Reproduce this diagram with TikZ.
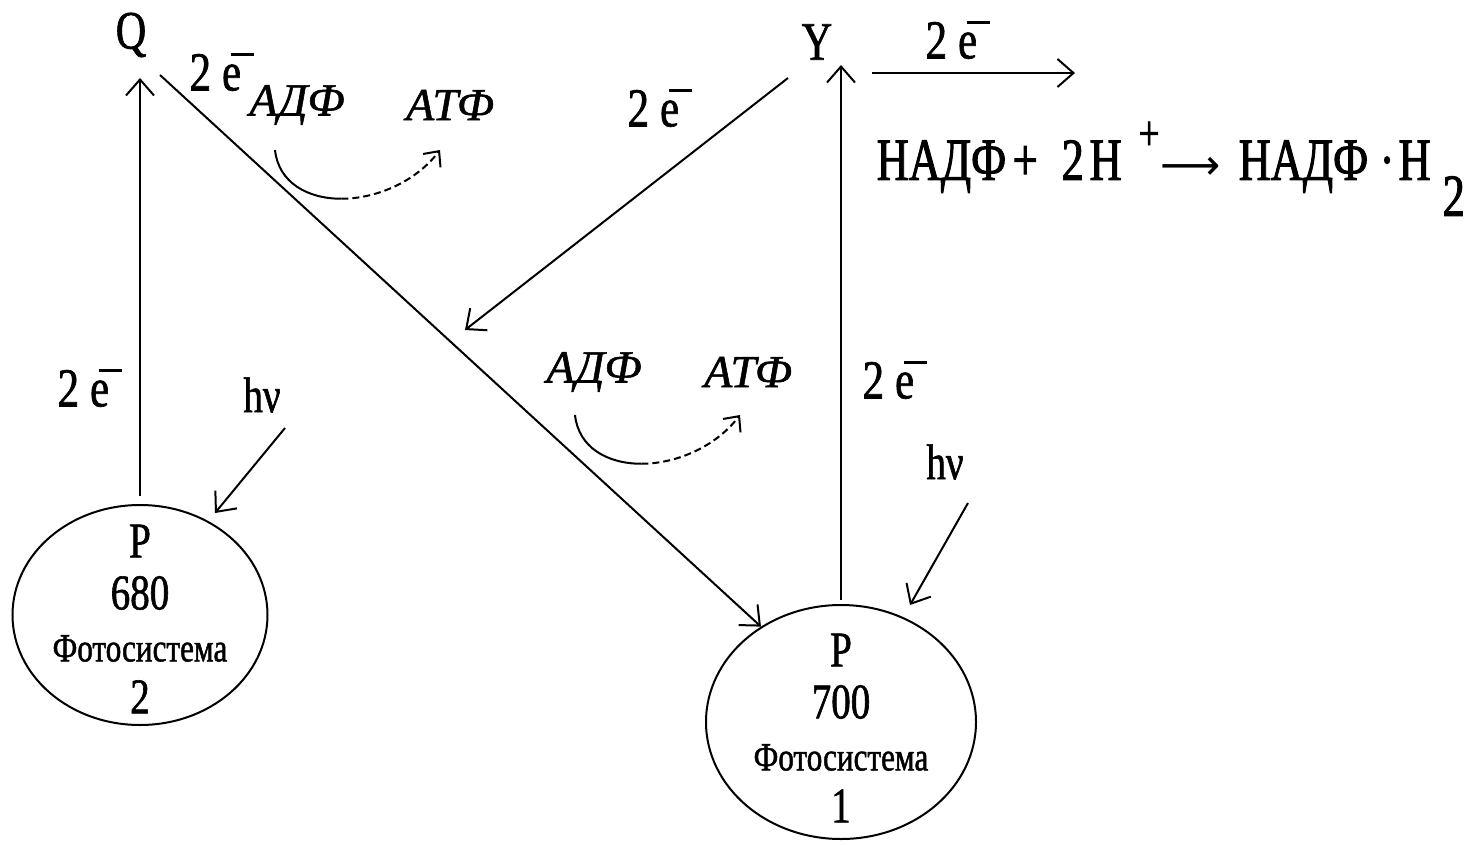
\documentclass[tikz,border=0pt]{standalone}
\usepackage{fontspec}
\setmainfont{Liberation Serif}
\newfontfamily\cond[FakeStretch=0.78,FakeBold=1.2]{Liberation Serif}
\newfontfamily\condb[FakeStretch=0.74,FakeBold=1.6]{Liberation Serif}
\newfontfamily\itb[FakeBold=1.2]{Liberation Serif Italic}
\newfontfamily\djv{DejaVu Sans}
\usetikzlibrary{shapes.geometric,arrows.meta}
\newcommand\elec{e\kern-0.18em\raisebox{0.63em}{\rule{0.42em}{0.05em}}}
\newcommand\twoe{2\hspace{0.2em}\elec}
\newcommand\at[2]{\makebox[0pt][l]{\hspace{#1pt}#2}}
\tikzset{
  ln/.style={line width=2pt},
  arr/.style={ln,-{Straight Barb[length=16pt,width=28pt,line width=2pt]}},
  smallarr/.style={ln,-{Straight Barb[length=12pt,width=22pt,line width=2pt]}},
  dsh/.style={dash pattern=on 7pt off 4pt},
  big/.style={inner sep=0pt,font=\cond\fontsize{54}{54}\selectfont},
  lbl/.style={inner sep=0pt,font=\cond\fontsize{55}{55}\selectfont},
  hv/.style={inner sep=0pt,font=\cond\fontsize{50}{50}\selectfont},
  atp/.style={inner sep=0pt,font=\itb\fontsize{46}{46}\selectfont},
  eq/.style={inner sep=0pt,anchor=base west,font=\condb\fontsize{60}{60}\selectfont},
  ps/.style={ellipse,draw,line width=2pt,inner sep=0pt},
  pstext/.style={inner sep=0pt,align=center,font=\cond\fontsize{50}{52}\selectfont}
}
\newcommand\fsys{\fontsize{40}{52}\selectfont}
\begin{document}
\begin{tikzpicture}[x=1pt,y=-1pt]
\useasboundingbox (0,0) rectangle (1478,845);
% photosystems
\node[ps,minimum width=255pt,minimum height=220pt] (ps2) at (140,615) {};
\node[pstext] (ps2t) at ([yshift=-4pt]ps2.center) {P\\680\\{\fsys Фотосистема}\\2};
\node[ps,minimum width=270pt,minimum height=234pt] (ps1) at (841,722) {};
\node[pstext] (ps1t) at ([yshift=-6pt]ps1.center) {P\\700\\{\fsys Фотосистема}\\1};
% carriers
\node[big] (Q) at (131,35) {Q};
\node[big] (Y) at (817,42) {Y};
% labels
\node[lbl] (e1) at (90,388) {\twoe};
\node[lbl] (e2) at (222,72) {\twoe};
\node[lbl] (e3) at (660,108) {\twoe};
\node[lbl] (e4) at (895,380) {\twoe};
\node[lbl] (e5) at (958,40) {\twoe};
\node[hv] (hv2) at (262,395) {hν};
\node[hv] (hv1) at (945,462) {hν};
\node[atp] (adf1) at (297,105) {АДФ};
\node[atp] (atf1) at (450,105) {АТФ};
\node[atp] (adf2) at (594,372) {АДФ};
\node[atp] (atf2) at (748,372) {АТФ};
\node[eq] (eqn) at (876,180) {\at{0}{НАДФ}\at{136}{+}\at{185}{2}\at{213}{Н}%
  \at{262}{\raisebox{0.5em}{\fontsize{50}{50}\selectfont +}}%
  \at{284}{{\djv\fontsize{42}{42}\selectfont ⟶}}%
  \at{362}{НАДФ}\at{503}{·}\at{522}{Н}\at{566}{\raisebox{-0.6em}{2}}\hspace{590pt}};
% coordinates for free ends
\coordinate (qin) at (138,78);
\coordinate (yin) at (842,65);
\coordinate (qout) at (160,75);
\coordinate (yout) at (788,78);
\coordinate (cycin) at (465,330);
\coordinate (h0) at (872,73);
\coordinate (h1) at (1075,73);
\coordinate (hv2s) at (285,428);
\coordinate (hv2e) at (215,513);
\coordinate (hv1s) at (968,503);
\coordinate (hv1e) at (910,605);
% connectors
\draw[arr,shorten <=8pt] (ps2.north) -- (ps2.north |- qin);
\draw[arr,shorten <=4pt] (ps1.north) -- (ps1.north |- yin);
\draw[arr] (qout) -- (ps1.130);
\draw[arr] (yout) -- (cycin);
\draw[arr] (h0) -- (h1);
\draw[arr] (hv2s) -- (hv2e);
\draw[arr] (hv1s) -- (hv1e);
% phosphorylation curves
\foreach \sx/\sy in {0/0,300/265}{
  \begin{scope}[shift={(\sx,\sy)}]
    \draw[ln] (275,150) .. controls (278.5,182.5) and (307.25,198.75) .. (341.4,198.75);
    \draw[smallarr,dsh] (341.4,198.75) .. controls (375.5,198.75) and (415,182.5) .. (440,150);
  \end{scope}
}
\end{tikzpicture}
\end{document}
